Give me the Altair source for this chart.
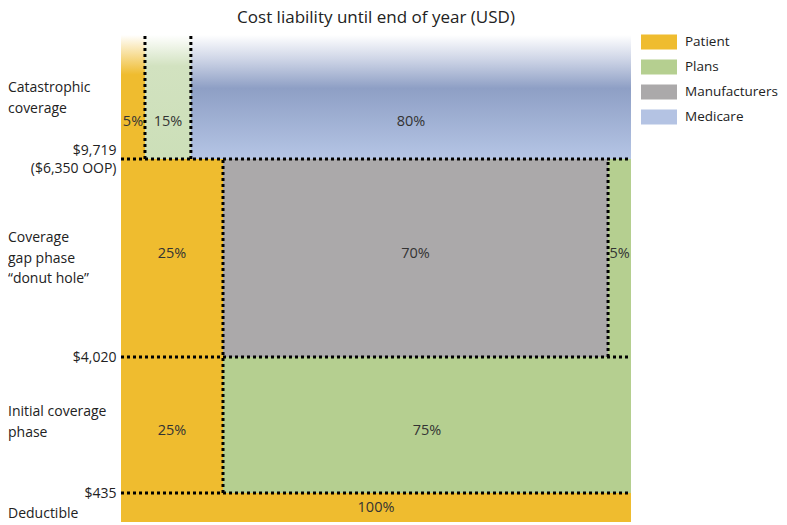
import altair as alt
import pandas as pd
import json

groups = ["Patient", "Plans", "Manufacturers", "Medicare"]
colors = ["#EFBC2F", "#B5CF90", "#ABA9AA", "#B4C3E3"]

# schematic vertical scale (bottom = 0)
band_edges = [0, 29, 165, 363, 487]
phase_names = ["Deductible", "Initial coverage\nphase", "Coverage\ngap phase\n\u201cdonut hole\u201d", "Catastrophic\ncoverage"]
phase_label_y = [8, 110, 284, 434]
threshold_values = [29, 165, 363]
threshold_labels = [["$435"], ["$4,020"], ["$9,719", "($6,350 OOP)"]]

# segments: band index, group, x start/end (share of width), label, label height
seg_band = [0, 1, 1, 2, 2, 2, 3, 3, 3]
seg_group = ["Patient", "Patient", "Plans", "Patient", "Manufacturers", "Plans", "Patient", "Plans", "Medicare"]
seg_x0 = [0, 0, 20, 0, 20, 95.5, 0, 4.7, 13.7]
seg_x1 = [100, 20, 100, 20, 95.5, 100, 4.7, 13.7, 100]
seg_pct = ["100%", "25%", "75%", "25%", "70%", "5%", "5%", "15%", "80%"]
seg_label_y = [14, 91, 91, 268, 268, 268, 400, 400, 400]

# dotted borders
hline_y = [29, 165, 363]
vline_x = [4.7, 13.7, 20, 95.5]
vline_y0 = [363, 363, 29, 165]
vline_y1 = [487, 487, 363, 363]

seg = pd.DataFrame({
    "group": seg_group,
    "x0": seg_x0,
    "x1": seg_x1,
    "y0": [band_edges[b] for b in seg_band],
    "y1": [band_edges[b + 1] for b in seg_band],
    "pct": seg_pct,
    "ly": seg_label_y,
    "xm": [(a + b) / 2 for a, b in zip(seg_x0, seg_x1)],
    "band": seg_band,
})
phases = pd.DataFrame({"name": phase_names, "y": phase_label_y})
hl = pd.DataFrame({"y": hline_y, "x0": [0] * 3, "x1": [100] * 3})
vl = pd.DataFrame({"x": vline_x, "y0": vline_y0, "y1": vline_y1})

FONT = "Open Sans"
TXT = "#222222"
xs = alt.Scale(domain=[0, 100], nice=False, zero=False)
ys = alt.Scale(domain=[0, 487], nice=False, zero=False)

expr = ""
for v, lab in zip(threshold_values, threshold_labels):
    expr += f"datum.value == {v} ? {json.dumps(lab)} : "
expr += "''"
multi_test = " || ".join(f"datum.value == {v}" for v, lab in zip(threshold_values, threshold_labels) if len(lab) > 1)

base = alt.Chart(seg)

solid = base.transform_filter("datum.band < 3").mark_rect().encode(
    x=alt.X("x0:Q", scale=xs, axis=None),
    x2="x1:Q",
    y=alt.Y("y0:Q", scale=ys, axis=alt.Axis(
        values=threshold_values, labelExpr=expr, title=None, ticks=False,
        domain=False, grid=False, labelFontSize=14, labelFont=FONT,
        labelColor=TXT, labelPadding=5, labelBaseline="middle",
        labelLineHeight=18,
        labelOffset={"condition": {"test": multi_test, "value": -9}, "value": 0})),
    y2="y1:Q",
    color=alt.Color("group:N", scale=alt.Scale(domain=groups, range=colors),
                    legend=alt.Legend(title=None)),
)

def grad(stops):
    return alt.Gradient(gradient="linear", x1=0, x2=0, y1=0, y2=1,
                        stops=[alt.GradientStop(offset=o, color=c) for o, c in stops])

grad_stops = {
    "Patient": [(0, "#FFFFFF"), (0.32, "#EFBC2F"), (1, "#EFBC2F")],
    "Plans": [(0, "#FFFFFF"), (0.25, "#D2E2C0"), (1, "#CCDFB8")],
    "Medicare": [(0, "#FFFFFF"), (0.2, "#CDD4E6"), (0.43, "#8E9FC5"), (1, "#B5C5E5")],
}
grad_layers = []
for g, stops in grad_stops.items():
    grad_layers.append(
        base.transform_filter(f"datum.band == 3 && datum.group == '{g}'")
        .mark_rect(color=grad(stops))
        .encode(x=alt.X("x0:Q", scale=xs), x2="x1:Q",
                y=alt.Y("y0:Q", scale=ys), y2="y1:Q")
    )

pct = base.mark_text(font=FONT, fontSize=14.5, color="#333333", baseline="middle").encode(
    x=alt.X("xm:Q", scale=xs), y=alt.Y("ly:Q", scale=ys), text="pct:N")

dash = dict(color="black", strokeWidth=3, strokeDash=[3, 3])
hrules = alt.Chart(hl).mark_rule(**dash).encode(
    x=alt.X("x0:Q", scale=xs), x2="x1:Q", y=alt.Y("y:Q", scale=ys))
vrules = alt.Chart(vl).mark_rule(**dash).encode(
    x=alt.X("x:Q", scale=xs), y=alt.Y("y0:Q", scale=ys), y2="y1:Q")

phase_text = alt.Chart(phases).mark_text(
    font=FONT, fontSize=14, color=TXT, align="left", baseline="middle",
    lineBreak="\n", lineHeight=20.5).encode(
    x=alt.value(-113), y=alt.Y("y:Q", scale=ys), text="name:N")

chart = alt.layer(solid, *grad_layers, pct, hrules, vrules, phase_text).properties(
    width=510, height=487,
    title=alt.TitleParams("Cost liability until end of year (USD)", font=FONT,
                          fontSize=17, fontWeight="normal", color=TXT, offset=3),
    autosize=alt.AutoSizeParams(type="none"),
    padding={"left": 113, "top": 27, "right": 148, "bottom": 3},
).configure_view(stroke=None).configure_legend(
    orient="none", legendX=520, legendY=-5.5, padding=0,
    symbolType="M-1,-0.6H1.88V0.6H-1Z", symbolSize=625,
    symbolStrokeWidth=0, symbolOpacity=1, rowPadding=5,
    labelFont=FONT, labelFontSize=13.5, labelColor=TXT, labelOffset=19,
    labelLimit=200,
)

chart.save("out.html", embed_options={"renderer": "svg", "actions": False})
